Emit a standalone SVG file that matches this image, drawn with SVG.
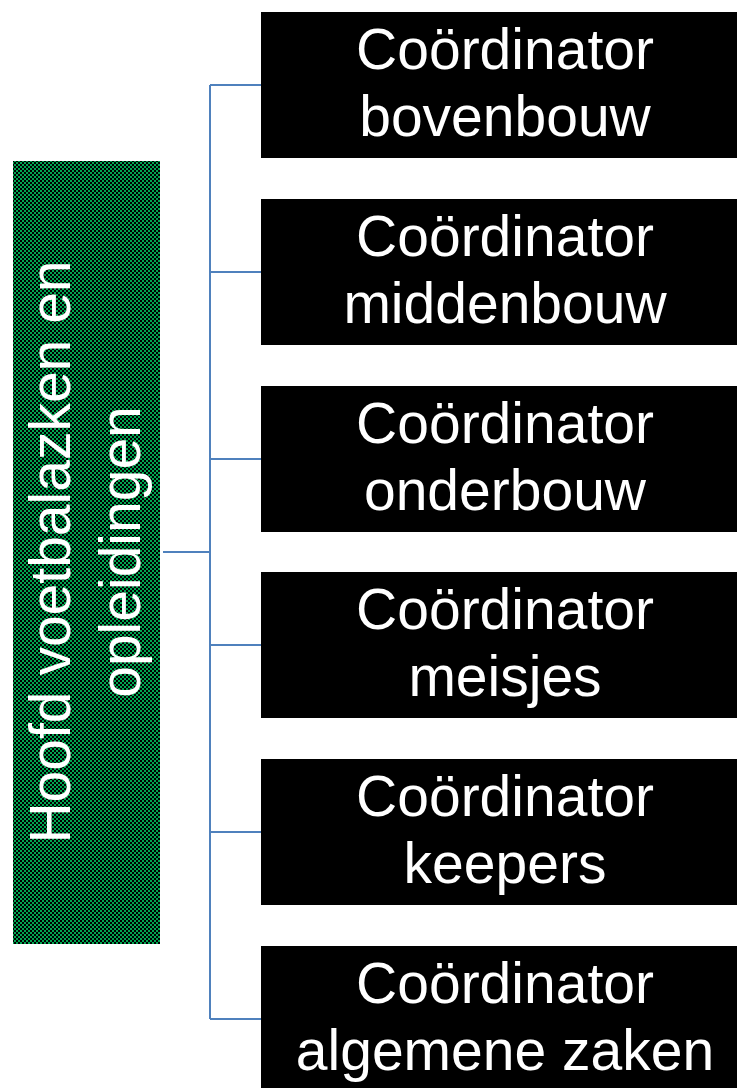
<svg xmlns="http://www.w3.org/2000/svg" width="737" height="1088" viewBox="0 0 737 1088">
<defs>
<pattern id="chk" x="0" y="0" width="4" height="4" patternUnits="userSpaceOnUse">
<rect width="4" height="4" fill="#00a651"/>
<rect width="2" height="2" fill="#000"/>
<rect x="2" y="2" width="2" height="2" fill="#000"/>
</pattern>
<style>
.box{fill:#000;}
.t{font-family:"Liberation Sans",Arial,sans-serif;font-size:57px;fill:#fff;text-anchor:middle;}
.c{stroke:#4f81bd;stroke-width:2;fill:none;}
</style>
</defs>
<rect width="737" height="1088" fill="#fff"/>
<g id="connectors">
<path class="c" d="M163 552 H210 M210 85 V1019 M210 85 H261 M210 272 H261 M210 459 H261 M210 645 H261 M210 832 H261 M210 1019 H261"/>
</g>
<g id="root">
<rect x="13" y="161" width="147" height="783" fill="url(#chk)"/>
<text class="t" transform="translate(70,552) rotate(-90)">Hoofd voetbalazken en</text>
<text class="t" transform="translate(140,552) rotate(-90)">opleidingen</text>
</g>
<g id="n1"><rect class="box" x="261" y="12" width="490" height="146"/><text class="t" x="505" y="69">Coördinator</text><text class="t" x="505" y="136">bovenbouw</text></g>
<g id="n2"><rect class="box" x="261" y="199" width="490" height="146"/><text class="t" x="505" y="256">Coördinator</text><text class="t" x="505" y="323">middenbouw</text></g>
<g id="n3"><rect class="box" x="261" y="386" width="490" height="146"/><text class="t" x="505" y="443">Coördinator</text><text class="t" x="505" y="510">onderbouw</text></g>
<g id="n4"><rect class="box" x="261" y="572" width="490" height="146"/><text class="t" x="505" y="629">Coördinator</text><text class="t" x="505" y="696">meisjes</text></g>
<g id="n5"><rect class="box" x="261" y="759" width="490" height="146"/><text class="t" x="505" y="816">Coördinator</text><text class="t" x="505" y="883">keepers</text></g>
<g id="n6"><rect class="box" x="261" y="946" width="490" height="146"/><text class="t" x="505" y="1003">Coördinator</text><text class="t" x="505" y="1070">algemene zaken</text></g>
</svg>
